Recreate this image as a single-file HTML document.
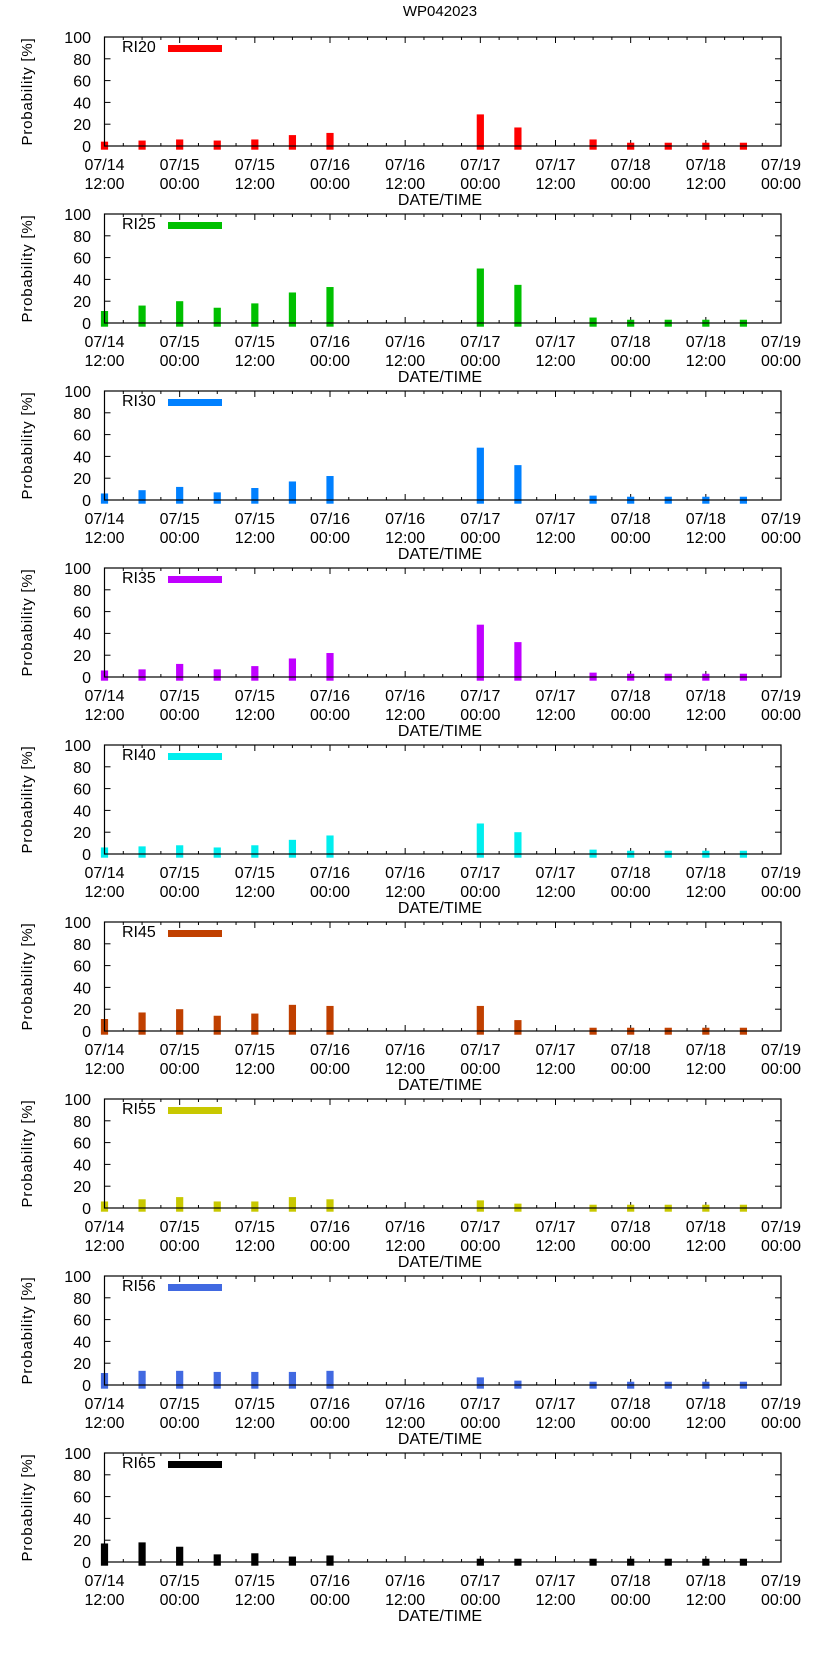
<!DOCTYPE html>
<html><head><meta charset="utf-8"><style>
html,body{margin:0;padding:0;background:#fff;}
svg{display:block;font-family:"Liberation Sans",sans-serif;}
</style></head><body>
<svg id="chart" width="822" height="1653" xmlns="http://www.w3.org/2000/svg">
<text x="440" y="16" font-size="15" text-anchor="middle">WP042023</text>
</svg>
<script>
const seriesNames = ["RI20","RI25","RI30","RI35","RI40","RI45","RI55","RI56","RI65"];
const seriesColors = ["#ff0000","#00c000","#0080ff","#c000ff","#00eeee","#c04000","#c8c800","#4169e1","#000000"];
const hours = [0,6,12,18,24,30,36,60,66,78,84,90,96,102];
const ri20 = [4,5,6,5,6,10,12,29,17,6,3,3,3,3];
const ri25 = [11,16,20,14,18,28,33,50,35,5,3,3,3,3];
const ri30 = [6,9,12,7,11,17,22,48,32,4,3,3,3,3];
const ri35 = [6,7,12,7,10,17,22,48,32,4,3,3,3,3];
const ri40 = [6,7,8,6,8,13,17,28,20,4,3,3,3,3];
const ri45 = [11,17,20,14,16,24,23,23,10,3,3,3,3,3];
const ri55 = [6,8,10,6,6,10,8,7,4,3,3,3,3,3];
const ri56 = [11,13,13,12,12,12,13,7,4,3,3,3,3,3];
const ri65 = [17,18,14,7,8,5,6,3,3,3,3,3,3,3];
const seriesValues = [ri20,ri25,ri30,ri35,ri40,ri45,ri55,ri56,ri65];
const yTicks = [0,20,40,60,80,100];
const xTickDates = ["07/14","07/15","07/15","07/16","07/16","07/17","07/17","07/18","07/18","07/19"];
const xTickTimes = ["12:00","00:00","12:00","00:00","12:00","00:00","12:00","00:00","12:00","00:00"];

const NS="http://www.w3.org/2000/svg";
const svg=document.getElementById('chart');
const L=104.5,R=781,PH=109,TOP0=37,STEP=177,XMAX=108;
function xs(h){return L+(R-L)*h/XMAX;}
function mk(tag,attrs,parent){const e=document.createElementNS(NS,tag);for(const k in attrs)e.setAttribute(k,attrs[k]);(parent||svg).appendChild(e);return e;}

seriesNames.forEach((name,i)=>{
  const top=TOP0+i*STEP,bot=top+PH;
  const ys=v=>bot-PH*v/100;
  const g=mk('g',{});
  
  
  // x ticks every 3h (under bars)
  for(let h=0;h<=XMAX;h+=3){
    const x=xs(h),len=(h%12===0)?6:3;
    mk('line',{x1:x,x2:x,y1:bot,y2:bot-len,stroke:'#000'},g);
    mk('line',{x1:x,x2:x,y1:top,y2:top+len,stroke:'#000'},g);
  }
  // bars
  seriesValues[i].forEach((v,j)=>{
    const b=mk('rect',{x:xs(hours[j])-3.6,y:ys(v),width:7.2,height:bot+3.7-ys(v),fill:seriesColors[i]},g);
    
    
  });
  // frame
  const f=mk('rect',{x:L,y:top,width:R-L,height:PH,fill:'none',stroke:'#000','stroke-width':1.2},g);
  
  
  // y ticks
  yTicks.forEach(t=>{
    const y=ys(t);
    mk('line',{x1:L,x2:L+6,y1:y,y2:y,stroke:'#000'},g);
    mk('line',{x1:R-6,x2:R,y1:y,y2:y,stroke:'#000'},g);
    const tx=mk('text',{x:91,y:y+6,'font-size':16,'text-anchor':'end'},g);
    
    
    tx.textContent=t;
  });
  xTickDates.forEach((d,k)=>{
    const x=xs(k*12);
    const t1=mk('text',{x:x,y:bot+24,'font-size':16,'text-anchor':'middle'},g);
    
    
    t1.textContent=d;
    const t2=mk('text',{x:x,y:bot+43,'font-size':16,'text-anchor':'middle'},g);
    
    
    t2.textContent=xTickTimes[k];
  });
  const xt=mk('text',{x:440,y:bot+59,'font-size':16,'text-anchor':'middle'},g);
  
  
  xt.textContent='DATE/TIME';
  const yt=mk('text',{x:0,y:0,'font-size':15,'text-anchor':'middle',transform:'translate(32,'+(top+PH/2)+') rotate(-90)','letter-spacing':'0.8'},g);
  
  
  yt.textContent='Probability [%]';
  const lt=mk('text',{x:122,y:top+15,'font-size':16},g);
  
  
  lt.textContent=name;
  const ls=mk('rect',{x:168,y:top+8,width:54,height:7,fill:seriesColors[i]},g);
  
  
});
</script>
</body></html>
